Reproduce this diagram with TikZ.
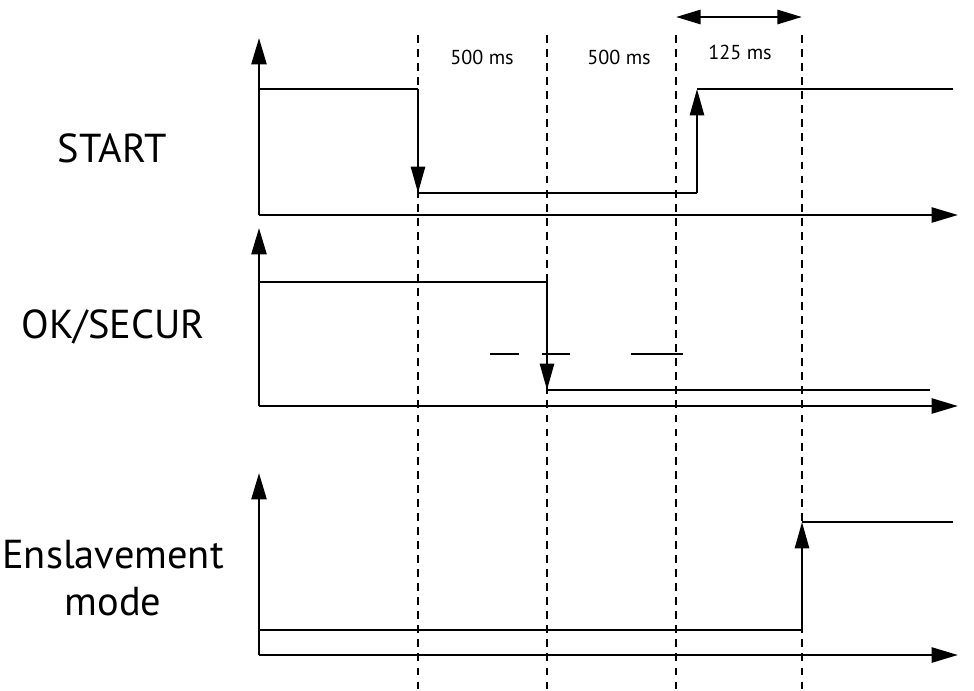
\documentclass[tikz,border=0pt]{standalone}
\usepackage{fontspec}
\setmainfont{PT Sans}
\usetikzlibrary{arrows.meta}
\tikzset{
  axis/.style={line width=1.5pt,-{Triangle[length=15pt,width=8.5pt]}},
  sig/.style={line width=1.45pt},
  edge/.style={line width=1.45pt,-{Triangle[length=15pt,width=8pt]}},
  guide/.style={line width=1.2pt,dash pattern=on 4.5pt off 3.5pt},
  lbl/.style={font=\fontsize{23}{27}\selectfont,align=center},
  dur/.style={font=\fontsize{11.5}{13}\selectfont}
}
\begin{document}
\begin{tikzpicture}[x=0.02cm,y=-0.02cm]
    \useasboundingbox (0,0) rectangle (974,690);

    % guide lines
    \foreach \t/\n in {418/a,547/b,676/c,802/d} {
      \coordinate (\n top) at (\t,35);
      \coordinate (\n bot) at (\t,690);
      \draw[guide] (\n top) -- (\n bot);
    }

    \node[dur] (d1) at (482,57) {500 ms};
    \node[dur] (d2) at (619,57) {500 ms};
    \node[dur] (d3) at (740,52) {125 ms};
    \coordinate (p1) at (676,17);
    \coordinate (p2) at (802,17);
    \draw[line width=1.5pt,{Triangle[length=14pt,width=8pt]}-{Triangle[length=14pt,width=8pt]}] (p1) -- (p2);

    % START
    \node[lbl] (start) at (112,148) {START};
    \coordinate (o1) at (259,215);
    \draw[axis] (o1) -- (259,38);
    \draw[axis] (o1) -- (958,215);
    \draw[sig] (259,89) -- (418,89);
    \draw[edge] (418,89) -- (418,193);
    \draw[sig] (418,193) -- (697,193);
    \draw[edge] (697,193) -- (697,89);
    \draw[sig] (697,89) -- (953,89);

    % OK/SECUR
    \node[lbl] (ok) at (113,327) {OK/SECUR};
    \coordinate (o2) at (259,406);
    \draw[axis] (o2) -- (259,228);
    \draw[axis] (o2) -- (958,406);
    \draw[sig] (259,282) -- (547,282);
    \draw[edge] (547,282) -- (547,390);
    \draw[sig] (547,390) -- (930,390);
    \draw[sig] (490,354) -- (519,354) (542,354) -- (570,354) (631,354) -- (683,354);

    % Enslavement mode
    \node[lbl] (mode) at (113,578) {Enslavement\\mode};
    \coordinate (o3) at (259,655);
    \draw[axis] (o3) -- (259,473);
    \draw[axis] (o3) -- (958,655);
    \draw[sig] (259,630) -- (802,630);
    \draw[edge] (802,630) -- (802,522);
    \draw[sig] (802,522) -- (953,522);
\end{tikzpicture}
\end{document}
